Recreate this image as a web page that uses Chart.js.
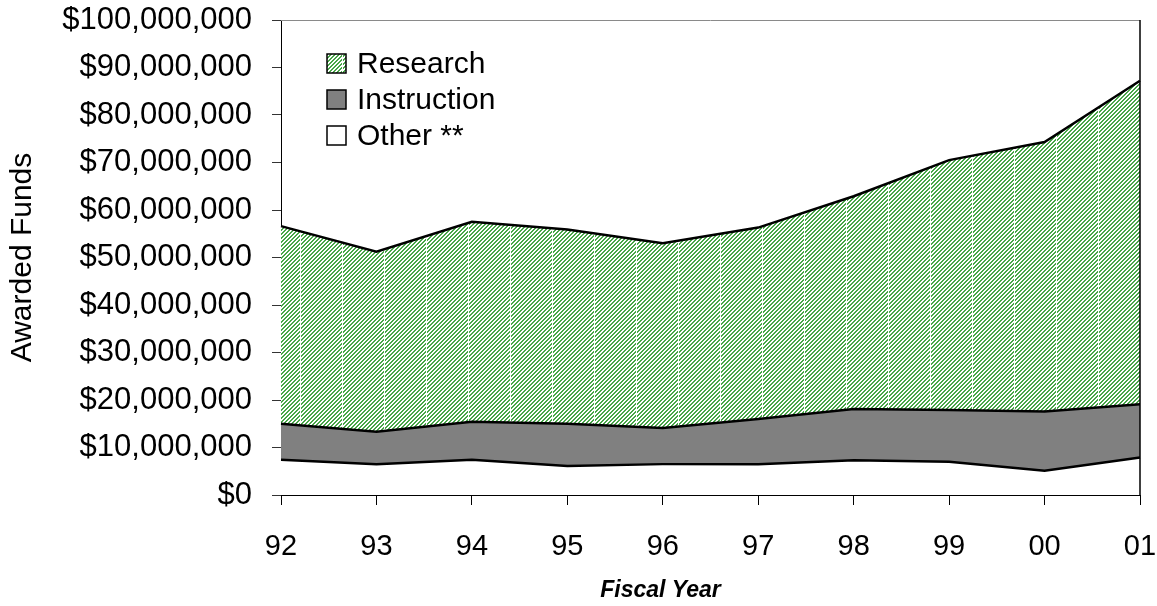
<!DOCTYPE html>
<html>
<head>
<meta charset="utf-8">
<script src="https://cdn.jsdelivr.net/npm/chart.js@4.4.1/dist/chart.umd.min.js"></script>
<style>
  html, body { margin: 0; padding: 0; background: #ffffff; }
  #wrap { width: 1157px; height: 606px; }
</style>
</head>
<body>
<div id="wrap"><canvas id="c" width="1157" height="606"></canvas></div>
<script>
// ---- Data (US dollars) ----
const categories = ['92', '93', '94', '95', '96', '97', '98', '99', '00', '01'];
const otherFunds       = [7.4e6, 6.5e6, 7.4e6, 6.1e6, 6.5e6, 6.5e6, 7.3e6, 7.0e6, 5.1e6, 7.9e6];
const instructionFunds = [7.6e6, 6.8e6, 8.0e6, 8.9e6, 7.6e6, 9.5e6, 10.8e6, 10.9e6, 12.5e6, 11.2e6];
const researchFunds    = [41.6e6, 37.9e6, 42.1e6, 40.9e6, 38.9e6, 40.3e6, 44.8e6, 52.6e6, 56.7e6, 68.1e6];
const seriesNames = ['Other **', 'Instruction', 'Research'];
const yMin = 0, yMax = 100000000, yStep = 10000000;
const xTitle = 'Fiscal Year';
const yTitle = 'Awarded Funds';

const FONT = '"Liberation Sans", Arial, Helvetica, sans-serif';
Chart.defaults.font.family = FONT;
Chart.defaults.color = '#000000';

// hatch pattern for Research
function makeHatch() {
  const w = 42, h = 4;
  const cv = document.createElement('canvas');
  cv.width = w; cv.height = h;
  const cx = cv.getContext('2d');
  const img = cx.createImageData(w, h);
  for (let y = 0; y < h; y++) {
    for (let x = 0; x < w; x++) {
      const i = (y * w + x) * 4;
      let r = 255, g = 255, b = 255;
      if (x !== 0 && ((x + y) % 4) < 2) { r = 72; g = 166; b = 72; }
      img.data[i] = r; img.data[i + 1] = g; img.data[i + 2] = b; img.data[i + 3] = 255;
    }
  }
  cx.putImageData(img, 0, 0);
  const pat = cx.createPattern(cv, 'repeat');
  try { pat.setTransform(new DOMMatrix([1, 0, 0, 1, 6, 0])); } catch (e) {}
  return pat;
}
const hatch = makeHatch();
const fills = ['#ffffff', '#808080', hatch];

const frame = {
  id: 'frame',
  afterDatasetsDraw(chart) {
    const { ctx, chartArea: a } = chart;
    ctx.save();
    ctx.lineWidth = 1;
    ctx.strokeStyle = '#8a8a8a';
    ctx.beginPath();
    ctx.moveTo(a.left, a.top + 0.5);
    ctx.lineTo(a.right, a.top + 0.5);
    ctx.stroke();
    ctx.strokeStyle = '#000000';
    ctx.lineWidth = 1.5;
    ctx.beginPath();
    ctx.moveTo(a.right, a.top);
    ctx.lineTo(a.right, a.bottom);
    ctx.stroke();
    ctx.restore();
  }
};

const legendBox = {
  id: 'legendBox',
  afterDraw(chart) {
    const { ctx, chartArea: a } = chart;
    const ds = chart.data.datasets;
    const order = [2, 1, 0];
    const x0 = a.left + 46, y0 = a.top + 34, rowH = 36, box = 19;
    ctx.save();
    ctx.font = '30px ' + FONT;
    ctx.textBaseline = 'middle';
    ctx.textAlign = 'left';
    order.forEach((di, r) => {
      const y = y0 + r * rowH;
      ctx.fillStyle = ds[di].backgroundColor;
      ctx.fillRect(x0, y, box, box);
      ctx.lineWidth = 1.5;
      ctx.strokeStyle = '#000000';
      ctx.strokeRect(x0, y, box, box);
      ctx.fillStyle = '#000000';
      ctx.fillText(ds[di].label, x0 + 30, y + box / 2 + 1);
    });
    ctx.restore();
  }
};

const xTitlePlugin = {
  id: 'xTitlePlugin',
  afterDraw(chart) {
    const { ctx, chartArea: a } = chart;
    ctx.save();
    ctx.font = 'italic bold 23px ' + FONT;
    ctx.textAlign = 'center';
    ctx.textBaseline = 'middle';
    ctx.fillStyle = '#000000';
    ctx.fillText(xTitle, (a.left + a.right) / 2 - 50, a.bottom + 96);
    ctx.restore();
  }
};

const values = [otherFunds, instructionFunds, researchFunds];
const datasets = values.map((arr, i) => ({
  label: seriesNames[i],
  data: arr,
  backgroundColor: fills[i],
  borderColor: '#000000',
  borderWidth: 2.5,
  pointRadius: 0,
  tension: 0,
  fill: i === 0 ? 'origin' : '-1'
}));

new Chart(document.getElementById('c'), {
  type: 'line',
  data: { labels: categories, datasets },
  options: {
    responsive: false,
    animation: false,
    layout: { padding: { top: 20, right: 17, left: 0, bottom: 0 } },
    plugins: { legend: { display: false }, tooltip: { enabled: false } },
    scales: {
      x: {
        offset: false,
        grid: { display: true, drawOnChartArea: false, tickLength: 10, color: '#000000', lineWidth: 1 },
        border: { display: true, color: '#000000', width: 1 },
        ticks: { font: { size: 29 }, color: '#000000', padding: 25, maxRotation: 0, autoSkip: false },
        afterFit(s) { s.height = 111; s.paddingLeft = 0; s.paddingRight = 0; }
      },
      y: {
        stacked: true,
        min: yMin, max: yMax,
        grid: { display: true, drawOnChartArea: false, tickLength: 9, color: '#333333', lineWidth: 1 },
        border: { display: true, color: '#000000', width: 1 },
        ticks: {
          stepSize: yStep,
          font: { size: 31 },
          color: '#000000',
          padding: 20,
          callback: v => '$' + Number(v).toLocaleString('en-US')
        },
        title: { display: true, text: yTitle, font: { size: 30 }, color: '#000000', padding: { top: 5, bottom: 0 } },
        afterFit(s) { s.width = 281; s.paddingTop = 0; s.paddingBottom = 0; }
      }
    }
  },
  plugins: [frame, legendBox, xTitlePlugin]
});
</script>
</body>
</html>
